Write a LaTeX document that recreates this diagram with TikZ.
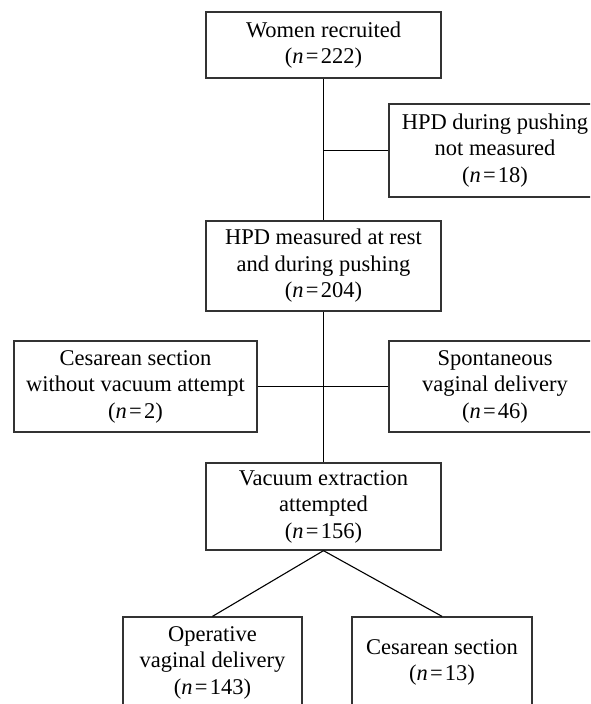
\documentclass[tikz,border=0pt]{standalone}
\usepackage{fontspec}
\setmainfont{Liberation Serif}
\newcommand{\ncount}[1]{(\textit{n}\kern2.2pt=\kern2.2pt#1)}
\begin{document}
\begin{tikzpicture}[x=1pt,y=-1pt,
  box/.style={draw=black!80, line width=1.3pt, align=center, inner sep=0pt,
    font=\fontsize{22.5}{26.5}\selectfont},
  conn/.style={draw=black, line width=1.8pt},
  diag/.style={draw=black, line width=1.1pt}]
\useasboundingbox (0,0) rectangle (590,704);
\clip (0,0) rectangle (590,704);
\fill[white] (0,0) rectangle (590,704);
\node[box, minimum width=235pt, minimum height=66pt] (w) at (323.5,45) {Women recruited\\\ncount{222}};
\node[box, minimum width=212pt, minimum height=93pt] (nm) at (495,150.5) {HPD during pushing\\not measured\\\ncount{18}};
\node[box, minimum width=235pt, minimum height=90pt] (hpd) at (323.5,266) {HPD measured at rest\\and during pushing\\\ncount{204}};
\node[box, minimum width=243pt, minimum height=91pt] (cs) at (135.5,386.5) {Cesarean section\\without vacuum attempt\\\ncount{2}};
\node[box, minimum width=212pt, minimum height=91pt] (sp) at (495,386.5) {Spontaneous\\vaginal delivery\\\ncount{46}};
\node[box, minimum width=235pt, minimum height=87pt] (vac) at (323.5,506.5) {Vacuum extraction\\attempted\\\ncount{156}};
\node[box, minimum width=179pt, minimum height=91pt] (ov) at (212.5,662.5) {Operative\\vaginal delivery\\\ncount{143}};
\node[box, minimum width=180pt, minimum height=91pt] (cb) at (442,662.5) {Cesarean section\\\ncount{13}};
\coordinate (j1) at (w.south |- nm.west);
\draw[conn] (w.south) -- (hpd.north);
\draw[conn, line width=1.5pt] (j1) -- (nm.west);
\draw[conn] (hpd.south) -- (vac.north);
\draw[conn, line width=1.5pt] (cs.east) -- (sp.west);
\draw[diag] (vac.south) -- (ov.north);
\draw[diag] (vac.south) -- (cb.north);
\end{tikzpicture}
\end{document}
